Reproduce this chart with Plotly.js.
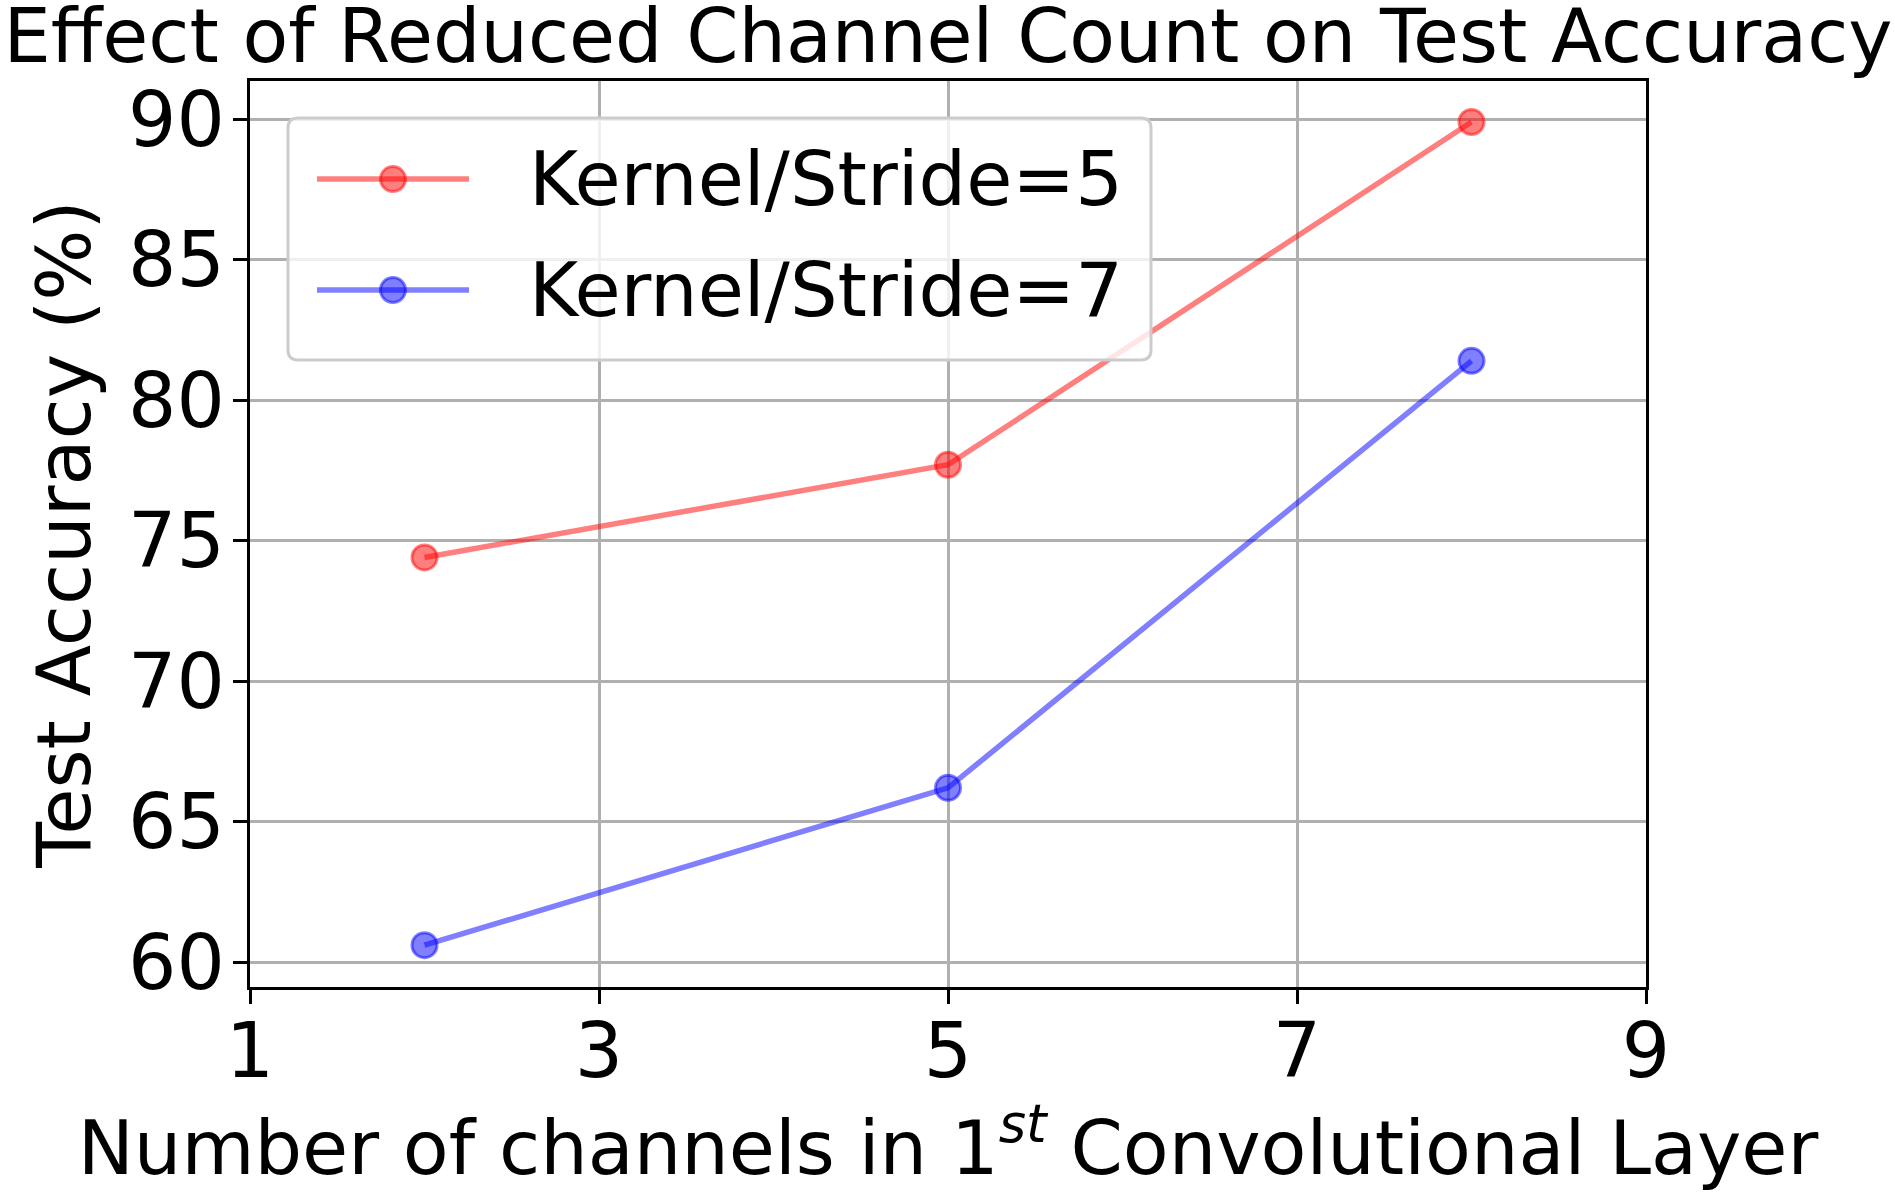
<!DOCTYPE html>
<html>
<head>
<meta charset="utf-8">
<script src="https://cdn.plot.ly/plotly-3.0.1.min.js"></script>
<style>html,body{margin:0;padding:0;background:#fff;}#chart{width:1895px;height:1192px;}</style>
</head>
<body>
<div id="chart"></div>
<script>
// ---- data ----
const channels = [2, 5, 8];
const accKernel5 = [74.4, 77.7, 89.9];
const accKernel7 = [60.6, 66.2, 81.4];
const seriesNames = ['Kernel/Stride=5', 'Kernel/Stride=7'];
const seriesColors = ['rgba(255,0,0,0.5)', 'rgba(0,0,255,0.5)'];
const xTickVals = [1, 3, 5, 7, 9];
const yTickVals = [60, 65, 70, 75, 80, 85, 90];
const chartTitle = 'Effect of Reduced Channel Count on Test Accuracy';
const xTitle = 'Number of channels in 1<sup><i>st</i></sup> Convolutional Layer';
const yTitle = 'Test Accuracy (%)';

const FONT = 'DejaVu Sans, sans-serif';
const seriesY = [accKernel5, accKernel7];

const traces = seriesY.map((ys, i) => ({
  type: 'scatter',
  mode: 'lines+markers',
  x: channels,
  y: ys,
  name: seriesNames[i],
  line: {color: seriesColors[i], width: 5.5},
  marker: {color: seriesColors[i], size: 25, line: {color: seriesColors[i], width: 3}},
  showlegend: false
}));

// ---- hand-built legend (matplotlib style, rounded frame) ----
const L = {x0: 0.0272, x1: 0.6454, y0: 0.6920, y1: 0.9592, rx: 0.0072, ry: 0.0110};
const framePath =
  `M${L.x0 + L.rx},${L.y1} L${L.x1 - L.rx},${L.y1} Q${L.x1},${L.y1} ${L.x1},${L.y1 - L.ry} ` +
  `L${L.x1},${L.y0 + L.ry} Q${L.x1},${L.y0} ${L.x1 - L.rx},${L.y0} ` +
  `L${L.x0 + L.rx},${L.y0} Q${L.x0},${L.y0} ${L.x0},${L.y0 + L.ry} ` +
  `L${L.x0},${L.y1 - L.ry} Q${L.x0},${L.y1} ${L.x0 + L.rx},${L.y1} Z`;
const rowY = [0.8918, 0.7693];
const sampleX0 = 0.048, sampleX1 = 0.1569, sampleMid = 0.1024, textX = 0.1985;

const shapes = [{
  type: 'path', xref: 'paper', yref: 'paper', path: framePath, layer: 'above',
  fillcolor: 'rgba(255,255,255,0.8)', line: {color: '#cccccc', width: 3}
}];
const annotations = [];
seriesNames.forEach((name, i) => {
  shapes.push({type: 'line', xref: 'paper', yref: 'paper', layer: 'above',
    x0: sampleX0, x1: sampleX1, y0: rowY[i], y1: rowY[i],
    line: {color: seriesColors[i], width: 5.5}});
  shapes.push({type: 'circle', xref: 'paper', yref: 'paper', layer: 'above',
    xsizemode: 'pixel', ysizemode: 'pixel', xanchor: sampleMid, yanchor: rowY[i],
    x0: -12.5, x1: 12.5, y0: -12.5, y1: 12.5,
    fillcolor: seriesColors[i], line: {color: seriesColors[i], width: 3}});
  annotations.push({xref: 'paper', yref: 'paper', x: textX, y: rowY[i],
    xanchor: 'left', yanchor: 'middle', showarrow: false, text: name,
    font: {family: FONT, size: 75, color: '#000'}});
});

const axisCommon = {
  showline: true, linecolor: '#000', linewidth: 3, mirror: true,
  ticks: 'outside', ticklen: 14, tickwidth: 3, tickcolor: '#000',
  showgrid: true, gridcolor: '#b0b0b0', gridwidth: 3, zeroline: false,
  tickfont: {family: FONT, size: 76, color: '#000'}
};

const layout = {
  width: 1895, height: 1192,
  paper_bgcolor: '#fff', plot_bgcolor: '#fff',
  margin: {l: 250, r: 249, t: 81, b: 205},
  font: {family: FONT, color: '#000'},
  title: {text: chartTitle, font: {family: FONT, size: 74.8, color: '#000'},
          xref: 'paper', x: 0.5, xanchor: 'center',
          yref: 'container', y: 1 - 62 / 1192, yanchor: 'bottom'},
  xaxis: Object.assign({}, axisCommon, {
    range: [1, 9], tickmode: 'array', tickvals: xTickVals, ticktext: xTickVals.map(String),
    ticklabelstandoff: -18,
    title: {text: xTitle, font: {family: FONT, size: 75, color: '#000'}, standoff: 44}
  }),
  yaxis: Object.assign({}, axisCommon, {
    range: [59.11, 91.36], tickmode: 'array', tickvals: yTickVals, ticktext: yTickVals.map(String),
    ticklabelstandoff: -7,
    title: {text: yTitle, font: {family: FONT, size: 75, color: '#000'}, standoff: 13}
  }),
  shapes: shapes,
  annotations: annotations,
  showlegend: false
};

Plotly.newPlot('chart', traces, layout, {displayModeBar: false, staticPlot: true});
</script>
</body>
</html>
